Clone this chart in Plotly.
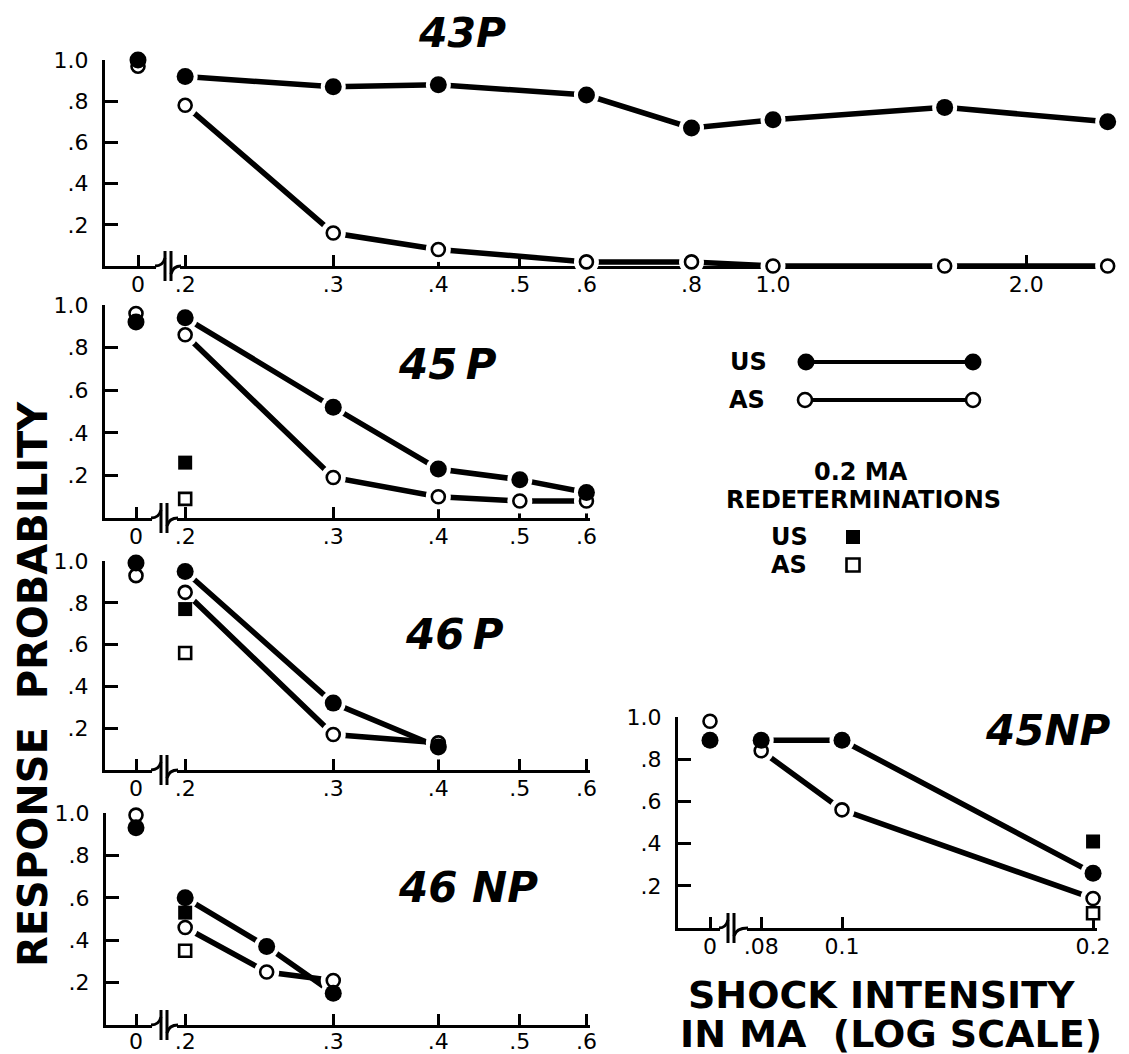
import plotly.graph_objects as go

W, H = 1129, 1054
PAGE_OFFSET = 8  # default body margin of the page that holds the figure

# ---------------- data ----------------
# 43P
x_43p = [0.2, 0.3, 0.4, 0.6, 0.8, 1.0, 1.6, 2.5]
us_43p = [0.92, 0.87, 0.88, 0.83, 0.67, 0.71, 0.77, 0.70]
as_43p = [0.78, 0.16, 0.08, 0.02, 0.02, 0.00, 0.00, 0.00]
us0_43p, as0_43p = 1.00, 0.97
# 45P
x_45p = [0.2, 0.3, 0.4, 0.5, 0.6]
us_45p = [0.94, 0.52, 0.23, 0.18, 0.12]
as_45p = [0.86, 0.19, 0.10, 0.08, 0.08]
us0_45p, as0_45p = 0.92, 0.96
usr_45p, asr_45p = 0.26, 0.09
# 46P
x_46p = [0.2, 0.3, 0.4]
us_46p = [0.95, 0.32, 0.11]
as_46p = [0.85, 0.17, 0.13]
us0_46p, as0_46p = 0.99, 0.93
usr_46p, asr_46p = 0.77, 0.56
# 46NP
x_46np = [0.2, 0.25, 0.3]
us_46np = [0.60, 0.37, 0.15]
as_46np = [0.46, 0.25, 0.21]
us0_46np, as0_46np = 0.93, 0.99
usr_46np, asr_46np = 0.53, 0.35
# 45NP
x_45np = [0.08, 0.1, 0.2]
us_45np = [0.89, 0.89, 0.26]
as_45np = [0.84, 0.56, 0.14]
us0_45np, as0_45np = 0.89, 0.98
usr_45np, asr_45np = 0.41, 0.07

redet_x = 0.2  # 0.2 MA redeterminations

y_tickvals = [0.2, 0.4, 0.6, 0.8, 1.0]
y_ticktext = [".2", ".4", ".6", ".8", "1.0"]
xt_43p = [0.2, 0.3, 0.4, 0.5, 0.6, 0.8, 1.0, 2.0]
xtt_43p = [".2", ".3", ".4", ".5", ".6", ".8", "1.0", "2.0"]
xt_p = [0.2, 0.3, 0.4, 0.5, 0.6]
xtt_p = [".2", ".3", ".4", ".5", ".6"]
xt_45np = [0.08, 0.1, 0.2]
xtt_45np = [".08", "0.1", "0.2"]

# ---------------- layout geometry (screen pixels) ----------------
def fx(px):
    return (px - PAGE_OFFSET) / W


def fy(py):
    return 1 - (py - PAGE_OFFSET) / H


panels = [
    dict(title="43P", tpos=(462, 33), tsize=41, x=x_43p, us=us_43p, as_=as_43p, us0=us0_43p, as0=as0_43p,
         usr=None, asr=None, xt=xt_43p, xtt=xtt_43p, so=-3,
         yx=105, zt=138, bl=156, br=180, mid=168, end=1110, top=60, base=266, c=773, k=841),
    dict(title="45\u2009P", tpos=(447, 365), tsize=42, x=x_45p, us=us_45p, as_=as_45p, us0=us0_45p, as0=as0_45p,
         usr=usr_45p, asr=asr_45p, xt=xt_p, xtt=xtt_p, so=-3,
         yx=105, zt=136, bl=152, br=177, mid=164, end=590, top=305, base=518, c=773, k=841),
    dict(title="46\u2009P", tpos=(454, 634), tsize=42, x=x_46p, us=us_46p, as_=as_46p, us0=us0_46p, as0=as0_46p,
         usr=usr_46p, asr=asr_46p, xt=xt_p, xtt=xtt_p, so=-3,
         yx=105, zt=136, bl=152, br=177, mid=164, end=590, top=561, base=770, c=773, k=841),
    dict(title="46 NP", tpos=(468, 887), tsize=42, x=x_46np, us=us_46np, as_=as_46np, us0=us0_46np, as0=as0_46np,
         usr=usr_46np, asr=asr_46np, xt=xt_p, xtt=xtt_p, so=-5,
         yx=106, zt=136, bl=152, br=177, mid=164, end=590, top=813, base=1025, c=773, k=841),
    dict(title="45NP", tpos=(1048, 730), tsize=42, x=x_45np, us=us_45np, as_=as_45np, us0=us0_45np, as0=as0_45np,
         usr=usr_45np, asr=asr_45np, xt=xt_45np, xtt=xtt_45np, so=-3,
         yx=678, zt=710, bl=720, br=747, mid=731, end=1097, top=717, base=928, c=1676, k=834),
]

TICKFONT = dict(family="DejaVu Sans", size=22, color="black")
common_axis = dict(showgrid=False, zeroline=False, showline=True, linecolor="black", linewidth=3,
                   ticks="inside", tickcolor="black", tickwidth=3, tickfont=TICKFONT,
                   layer="below traces", fixedrange=True, automargin=False)

fig = go.Figure()
layout = {}
shapes = []
annotations = []


def path_line(pts):
    return "M " + " L ".join(f"{fx(a):.5f},{fy(b):.5f}" for a, b in pts)


for i, p in enumerate(panels, start=1):
    nz, nm = 2 * i - 1, 2 * i
    xz = "x" if nz == 1 else f"x{nz}"
    xm = f"x{nm}"
    yy = "y" if i == 1 else f"y{i}"
    kz = "xaxis" if nz == 1 else f"xaxis{nz}"
    km = f"xaxis{nm}"
    ky = "yaxis" if i == 1 else f"yaxis{i}"

    f0 = (p["zt"] - p["yx"]) / (p["bl"] - p["yx"])
    layout[kz] = dict(common_axis, domain=[fx(p["yx"]), fx(p["bl"])], range=[-f0, 1 - f0],
                      anchor=yy, tickvals=[0], ticktext=["0"], ticklen=11, ticklabelstandoff=p["so"])
    lo = (p["br"] - p["c"]) / p["k"]
    hi = (p["end"] - p["c"]) / p["k"]
    layout[km] = dict(common_axis, type="log", domain=[fx(p["br"]), fx(p["end"])], range=[lo, hi],
                      anchor=yy, tickvals=p["xt"], ticktext=p["xtt"], ticklen=11,
                      ticklabelstandoff=p["so"])
    layout[ky] = dict(common_axis, domain=[fy(p["base"]), fy(p["top"])], range=[0, 1],
                      anchor=xz, tickvals=y_tickvals, ticktext=y_ticktext, ticklen=13,
                      ticklabelstandoff=9)

    kw = dict(yaxis=yy, showlegend=False, hoverinfo="skip", cliponaxis=False)
    # series lines
    fig.add_trace(go.Scatter(x=p["x"], y=p["us"], mode="lines", xaxis=xm,
                             line=dict(color="black", width=5.5), **kw))
    fig.add_trace(go.Scatter(x=p["x"], y=p["as_"], mode="lines", xaxis=xm,
                             line=dict(color="black", width=5.5), **kw))
    # white halos so the lines stop short of the markers
    fig.add_trace(go.Scatter(x=p["x"] + p["x"], y=p["us"] + p["as_"], mode="markers", xaxis=xm,
                             marker=dict(size=25, color="white", line=dict(width=0)), **kw))
    # AS open circles, then US filled circles on top
    fig.add_trace(go.Scatter(x=p["x"], y=p["as_"], mode="markers", xaxis=xm,
                             marker=dict(symbol="circle", size=13, color="white",
                                         line=dict(color="black", width=2.6)), **kw))
    fig.add_trace(go.Scatter(x=p["x"], y=p["us"], mode="markers", xaxis=xm,
                             marker=dict(symbol="circle", size=17, color="black",
                                         line=dict(width=0)), **kw))
    # zero-intensity points
    fig.add_trace(go.Scatter(x=[0], y=[p["as0"]], mode="markers", xaxis=xz,
                             marker=dict(symbol="circle", size=13, color="white",
                                         line=dict(color="black", width=2.6)), **kw))
    fig.add_trace(go.Scatter(x=[0], y=[p["us0"]], mode="markers", xaxis=xz,
                             marker=dict(symbol="circle", size=17, color="black",
                                         line=dict(width=0)), **kw))
    # 0.2 MA redeterminations
    if p["usr"] is not None:
        fig.add_trace(go.Scatter(x=[redet_x], y=[p["asr"]], mode="markers", xaxis=xm,
                                 marker=dict(symbol="square", size=12, color="white",
                                             line=dict(color="black", width=2.6)), **kw))
        fig.add_trace(go.Scatter(x=[redet_x], y=[p["usr"]], mode="markers", xaxis=xm,
                                 marker=dict(symbol="square", size=14, color="black",
                                             line=dict(width=0)), **kw))

    # axis break symbol
    b, bl, br, m = p["base"], p["bl"], p["br"], p["mid"]
    lw = dict(color="black", width=3)
    shapes.append(dict(type="path", xref="paper", yref="paper", line=lw,
                       path=f"M {fx(bl - 1):.5f},{fy(b):.5f} Q {fx(m - 5):.5f},{fy(b):.5f} {fx(m - 3):.5f},{fy(b - 8):.5f}"))
    shapes.append(dict(type="path", xref="paper", yref="paper", line=lw,
                       path=path_line([(m - 3, b - 15), (m - 3, b + 15)])))
    shapes.append(dict(type="path", xref="paper", yref="paper", line=lw,
                       path=path_line([(m + 3, b - 15), (m + 3, b + 15)])))
    shapes.append(dict(type="path", xref="paper", yref="paper", line=lw,
                       path=f"M {fx(m + 3):.5f},{fy(b + 8):.5f} Q {fx(m + 5):.5f},{fy(b):.5f} {fx(br + 1):.5f},{fy(b):.5f}"))

    # panel title
    annotations.append(dict(text=p["title"], x=fx(p["tpos"][0]), y=fy(p["tpos"][1]), xref="paper",
                            yref="paper", xanchor="center", yanchor="middle", showarrow=False,
                            font=dict(family="DejaVu Sans", size=p["tsize"], color="black",
                                      weight="bold", style="italic")))

# ---------------- legend (drawn as decoration) ----------------
LFONT = dict(family="DejaVu Sans", size=24, color="black", weight="bold")


def label(text, x, y, font=LFONT, **extra):
    annotations.append(dict(text=text, x=fx(x), y=fy(y), xref="paper", yref="paper",
                            xanchor="center", yanchor="middle", showarrow=False, font=font, **extra))


def circle(cx, cy, r, filled, lwidth=2.6):
    shapes.append(dict(type="circle", xref="paper", yref="paper",
                       x0=fx(cx - r), x1=fx(cx + r), y0=fy(cy + r), y1=fy(cy - r),
                       fillcolor="black" if filled else "white",
                       line=dict(color="black", width=0 if filled else lwidth)))


def square(cx, cy, h, filled):
    shapes.append(dict(type="rect", xref="paper", yref="paper",
                       x0=fx(cx - h), x1=fx(cx + h), y0=fy(cy + h), y1=fy(cy - h),
                       fillcolor="black" if filled else "white",
                       line=dict(color="black", width=0 if filled else 2.6)))


label("US", 748, 362)
label("AS", 747, 400)
shapes.append(dict(type="line", xref="paper", yref="paper", x0=fx(806), x1=fx(973), y0=fy(362), y1=fy(362),
                   line=dict(color="black", width=4)))
shapes.append(dict(type="line", xref="paper", yref="paper", x0=fx(805), x1=fx(973), y0=fy(400), y1=fy(400),
                   line=dict(color="black", width=4)))
circle(806, 362, 8.5, True)
circle(973, 362, 8.5, True)
circle(805, 400, 7, False)
circle(973, 400, 7, False)
label("0.2 MA", 861, 472)
label("REDETERMINATIONS", 863, 500)
label("US", 789, 537)
label("AS", 789, 565)
square(853, 537, 7, True)
square(853, 565, 6.5, False)

# ---------------- axis titles ----------------
BIG = dict(family="DejaVu Sans", size=40, color="black", weight="bold")
label("RESPONSE\u00a0\u00a0PROBABILITY", 33, 684, font=BIG, textangle=-90)
XL = dict(family="DejaVu Sans", size=38, color="black", weight="bold")
label("SHOCK INTENSITY", 881, 995, font=XL)
label("IN MA\u00a0\u00a0(LOG SCALE)", 891, 1034, font=XL)

fig.update_layout(
    template="none",
    width=W, height=H, margin=dict(l=0, r=0, t=0, b=0, pad=0, autoexpand=False),
    paper_bgcolor="white", plot_bgcolor="white",
    shapes=shapes, annotations=annotations, showlegend=False,
    **layout,
)

fig.write_html("out.html")
